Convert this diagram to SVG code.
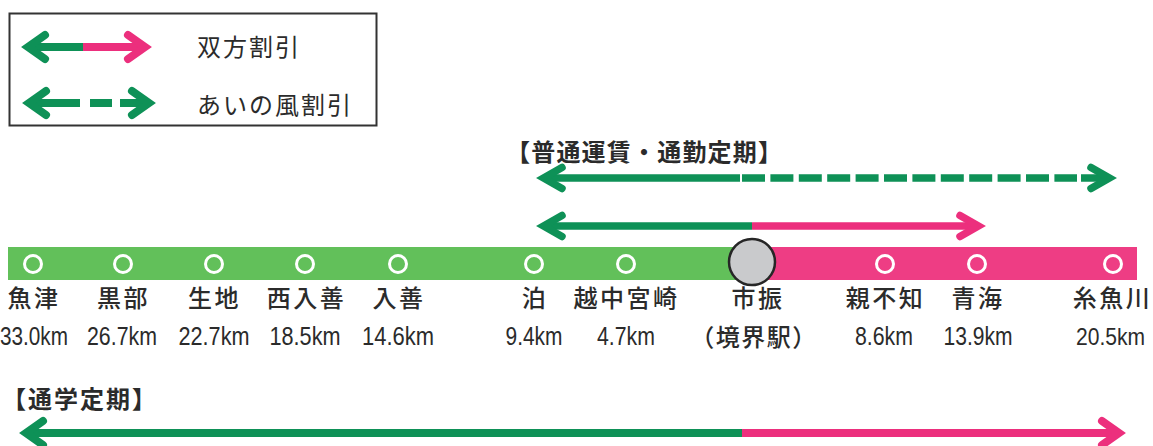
<svg xmlns="http://www.w3.org/2000/svg" width="1153" height="446" viewBox="0 0 1153 446">
<style>
.jp{font-family:"Noto Sans CJK JP","Noto Sans CJK SC",sans-serif;fill:#2b2b2b}
.leg{font-size:24px;letter-spacing:2px}
.ttl{font-size:24px;font-weight:bold}
.nm{font-size:24px;font-weight:500;letter-spacing:2.5px;text-anchor:middle}
.km{font-family:"Liberation Sans",Arial,sans-serif;font-size:25px;fill:#2b2b2b;text-anchor:middle}
.kms{font-family:"Liberation Sans",Arial,sans-serif;font-size:24px;fill:#2b2b2b}
.sub{font-size:24px;font-weight:500;letter-spacing:1.5px;text-anchor:middle}
.g{stroke:#0e9157;fill:none}
.p{stroke:#ec2f7d;fill:none}
.w8{stroke-width:8}
.w7{stroke-width:7.5}
.head{stroke-linecap:round;stroke-linejoin:miter;stroke-miterlimit:6}
.st{fill:none;stroke:#ffffff;stroke-width:3}
</style>
<rect width="1153" height="446" fill="#ffffff"/>

<g id="legend">
  <rect x="9.5" y="13.5" width="367" height="112" fill="none" stroke="#333333" stroke-width="2"/>
  <g id="legend-both">
    <path class="g w8" d="M28 47H83"/>
    <path class="p w8" d="M83 47H145"/>
    <path class="g w8 head" d="M45 35L28 47L45 59"/>
    <path class="p w8 head" d="M128 35L145 47L128 59"/>
    <text class="jp leg" x="197" y="56">双方割引</text>
  </g>
  <g id="legend-ainokaze">
    <path class="g w8" d="M29 103H80M90 103H112M120 103H149"/>
    <path class="g w8 head" d="M46 91L29 103L46 115"/>
    <path class="g w8 head" d="M132 91L149 103L132 115"/>
    <text class="jp leg" x="197" y="114">あいの風割引</text>
  </g>
</g>

<g id="titles">
  <text class="jp ttl" x="506" y="161" textLength="276" lengthAdjust="spacing">【普通運賃・通勤定期】</text>
  <text class="jp ttl" x="2" y="408" textLength="154" lengthAdjust="spacing">【通学定期】</text>
</g>

<g id="line-bar">
  <rect x="8" y="247" width="744" height="33" fill="#62c05a"/>
  <rect x="752" y="247" width="385" height="33" fill="#ee3d84"/>
</g>

<g id="connectors">
  <g id="arrow-futsu-ainokaze">
    <path class="g w7" d="M543.6 178H740"/>
    <path class="g w7" d="M742 178H1077" stroke-dasharray="23 5.4"/>
    <path class="g w7" d="M1081 178H1109.4"/>
    <path class="g w7 head" d="M562 167.5L543.6 178L562 188.5"/>
    <path class="g w7 head" d="M1091 167.5L1109.4 178L1091 188.5"/>
  </g>
  <g id="arrow-futsu-both">
    <path class="g w7" d="M543.6 226H752"/>
    <path class="p w7" d="M752 226H978.4"/>
    <path class="g w7 head" d="M562 215.5L543.6 226L562 236.5"/>
    <path class="p w7 head" d="M960 215.5L978.4 226L960 236.5"/>
  </g>
  <g id="arrow-tsugaku">
    <path class="g w8" d="M26 433H742"/>
    <path class="p w8" d="M742 433H1119"/>
    <path class="g w8 head" d="M43 421L26 433L43 445"/>
    <path class="p w8 head" d="M1102 421L1119 433L1102 445"/>
  </g>
</g>

<g id="st-uozu"><circle class="st" cx="33" cy="264" r="8.5"/><text class="jp nm" x="34" y="307">魚津</text><text class="km" x="34" y="345" textLength="68" lengthAdjust="spacingAndGlyphs">33.0km</text></g>
<g id="st-kurobe"><circle class="st" cx="123" cy="264" r="8.5"/><text class="jp nm" x="123.5" y="307">黒部</text><text class="km" x="122" y="345" textLength="70" lengthAdjust="spacingAndGlyphs">26.7km</text></g>
<g id="st-ikuji"><circle class="st" cx="214" cy="264" r="8.5"/><text class="jp nm" x="214.5" y="307">生地</text><text class="km" x="214" y="345" textLength="71" lengthAdjust="spacingAndGlyphs">22.7km</text></g>
<g id="st-nishinyuzen"><circle class="st" cx="305" cy="264" r="8.5"/><text class="jp nm" x="306.5" y="307">西入善</text><text class="km" x="305" y="345" textLength="71" lengthAdjust="spacingAndGlyphs">18.5km</text></g>
<g id="st-nyuzen"><circle class="st" cx="398" cy="264" r="8.5"/><text class="jp nm" x="399" y="307">入善</text><text class="km" x="398" y="345" textLength="72" lengthAdjust="spacingAndGlyphs">14.6km</text></g>
<g id="st-tomari"><circle class="st" cx="534" cy="264" r="8.5"/><text class="jp nm" x="535" y="307">泊</text><text class="km" x="534" y="345" textLength="57" lengthAdjust="spacingAndGlyphs">9.4km</text></g>
<g id="st-ecchumiyazaki"><circle class="st" cx="626" cy="264" r="8.5"/><text class="jp nm" x="626.5" y="307">越中宮崎</text><text class="km" x="626" y="345" textLength="58" lengthAdjust="spacingAndGlyphs">4.7km</text></g>
<g id="st-ichiburi">
  <circle cx="752" cy="262" r="23" fill="#c9cacc" stroke="#262626" stroke-width="2.5"/>
  <text class="jp nm" x="758" y="307">市振</text>
  <text class="jp sub" x="754" y="346">（境界駅）</text>
</g>
<g id="st-oyashirazu"><circle class="st" cx="885" cy="264" r="8.5"/><text class="jp nm" x="885.5" y="307">親不知</text><text class="km" x="884" y="345" textLength="58" lengthAdjust="spacingAndGlyphs">8.6km</text></g>
<g id="st-omi"><circle class="st" cx="977" cy="264" r="8.5"/><text class="jp nm" x="978" y="307">青海</text><text class="km" x="978" y="345" textLength="69" lengthAdjust="spacingAndGlyphs">13.9km</text></g>
<g id="st-itoigawa"><circle class="st" cx="1113" cy="264" r="8.5"/><text class="jp nm" x="1112.5" y="307">糸魚川</text><text class="kms" x="1076" y="345" textLength="69" lengthAdjust="spacingAndGlyphs">20.5km</text></g>
</svg>
